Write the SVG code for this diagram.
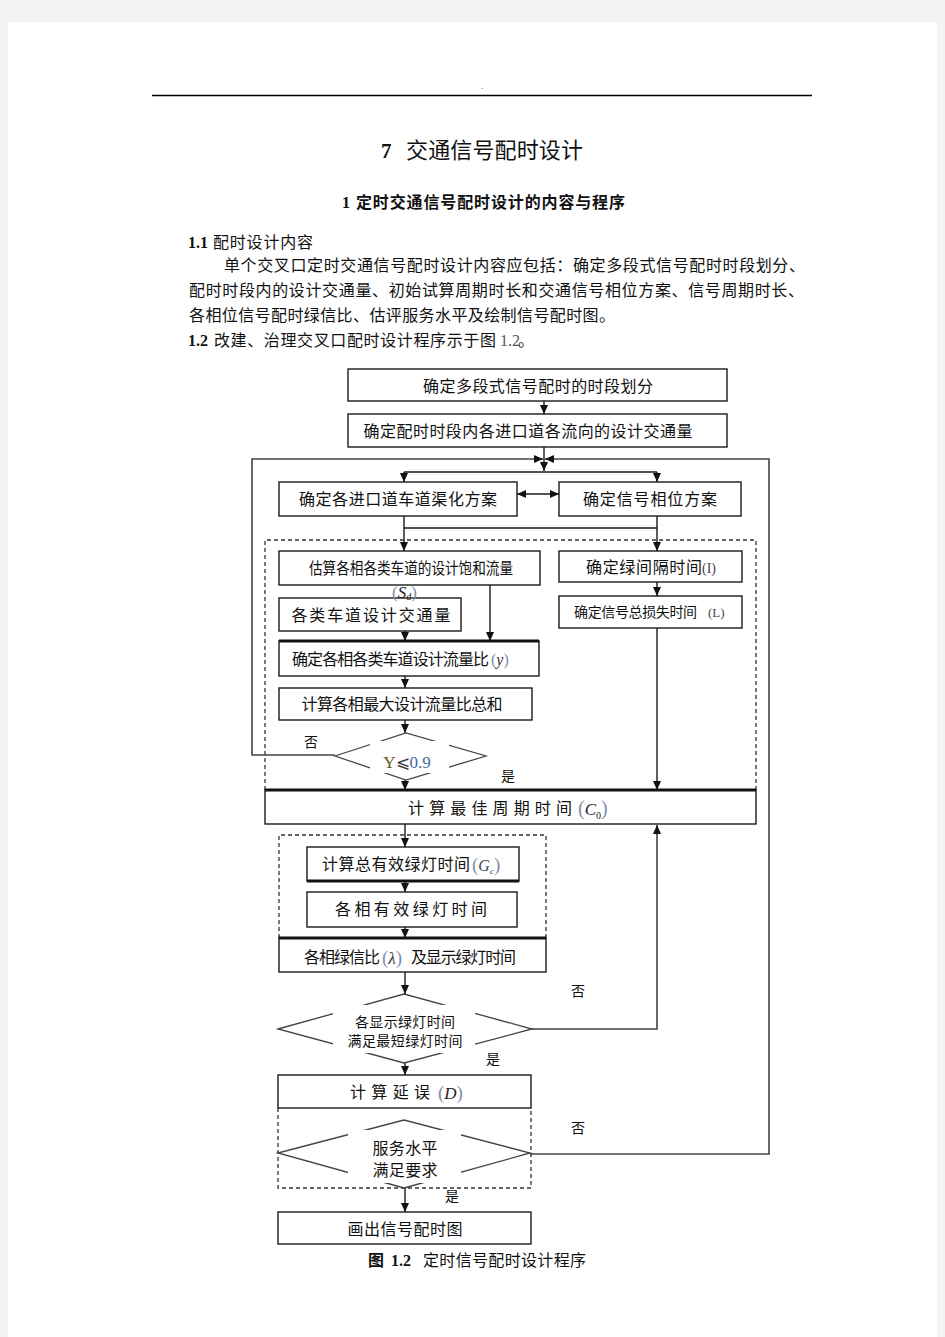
<svg xmlns="http://www.w3.org/2000/svg" width="945" height="1337" viewBox="0 0 945 1337">
<style>
.box{fill:#fff;stroke:#1a1a1a;stroke-width:1.4}
.thick{stroke:#111;stroke-width:3}
.cn{font-family:"Noto Sans CJK SC","Noto Sans",sans-serif;font-size:16px;fill:#111}
.sm{font-size:14px}
.lab{font-family:"Noto Sans CJK SC",sans-serif;font-size:14px;fill:#111;text-anchor:middle}
.mid{text-anchor:middle}
.ser{font-family:"Liberation Serif","DejaVu Serif",serif}
.it{font-style:italic}
.par{fill:#8090a8}
.ln{fill:none;stroke:#1a1a1a;stroke-width:1.4}
.loop{fill:none;stroke:#444;stroke-width:1.6}
.dash{fill:none;stroke:#333;stroke-width:1.3;stroke-dasharray:4 3}
.dia{fill:#fff;stroke:#444;stroke-width:1.3}
</style>
<defs>
<marker id="ah" markerUnits="userSpaceOnUse" markerWidth="10" markerHeight="8" refX="9" refY="4" orient="auto-start-reverse">
<path d="M0,0 L9,4 L0,8 z" fill="#111"/>
</marker>
</defs>
<rect x="0" y="0" width="945" height="1337" fill="#f3f3f3"/>
<rect x="8" y="22" width="929" height="1315" fill="#fff"/>
<g id="page-text">
<line x1="152" y1="95.5" x2="812" y2="95.5" stroke="#000" stroke-width="1.3"/>
<text x="481" y="90" font-family="Liberation Sans,sans-serif" font-size="7" fill="#777">-</text>
<text x="381" y="158" class="ser" font-size="21" font-weight="bold" fill="#111">7</text>
<text x="406" y="158" class="cn" style="font-size:22px" textLength="177">交通信号配时设计</text>
<text x="342" y="208" class="ser" font-size="16" font-weight="bold" fill="#111">1</text>
<text x="356" y="208" class="cn" font-weight="bold" textLength="269">定时交通信号配时设计的内容与程序</text>
<text x="188" y="248" class="ser" font-size="16" font-weight="bold" fill="#111">1.1</text>
<text x="213" y="248" class="cn" textLength="100">配时设计内容</text>
<text x="224" y="271" class="cn" textLength="581">单个交叉口定时交通信号配时设计内容应包括：确定多段式信号配时时段划分、</text>
<text x="189" y="296" class="cn" textLength="615">配时时段内的设计交通量、初始试算周期时长和交通信号相位方案、信号周期时长、</text>
<text x="189" y="321" class="cn" textLength="426">各相位信号配时绿信比、估评服务水平及绘制信号配时图。</text>
<text x="188" y="346" class="ser" font-size="16" font-weight="bold" fill="#111">1.2</text>
<text x="214" y="346" class="cn" textLength="282">改建、治理交叉口配时设计程序示于图</text>
<text x="500" y="346" class="ser" font-size="16" fill="#556">1.2</text>
<text x="518" y="346" class="cn">。</text>
</g>
<g id="connectors">
<path class="loop" d="M335,755 H252 V459 H543" marker-end="url(#ah)"/>
<path class="loop" d="M530,1154 H769 V459 H545" marker-end="url(#ah)"/>
<path class="ln" d="M544,401 V414" marker-end="url(#ah)"/>
<path class="ln" d="M544,447 V471" marker-end="url(#ah)"/>
<path class="ln" d="M404,472 H657"/>
<path class="ln" d="M404,472 V482" marker-end="url(#ah)"/>
<path class="ln" d="M657,472 V482" marker-end="url(#ah)"/>
<path class="ln" d="M517,494 H559" marker-start="url(#ah)" marker-end="url(#ah)"/>
<path class="ln" d="M404,516 V551" marker-end="url(#ah)"/>
<path class="ln" d="M657,516 V551" marker-end="url(#ah)"/>
<path class="ln" d="M404,528 H657"/>
<path class="ln" d="M490,585 V641" marker-end="url(#ah)"/>
<path class="ln" d="M405,631 V641" marker-end="url(#ah)"/>
<path class="ln" d="M405,676 V688" marker-end="url(#ah)"/>
<path class="ln" d="M405,720 V733" marker-end="url(#ah)"/>
<path class="ln" d="M405,780 V790" marker-end="url(#ah)"/>
<path class="ln" d="M657,582 V596" marker-end="url(#ah)"/>
<path class="ln" d="M657,628 V790" marker-end="url(#ah)"/>
<path class="ln" d="M405,824 V847" marker-end="url(#ah)"/>
<path class="ln" d="M405,881 V892" marker-end="url(#ah)"/>
<path class="ln" d="M405,927 V938" marker-end="url(#ah)"/>
<path class="ln" d="M405,972 V994" marker-end="url(#ah)"/>
<path class="loop" d="M532,1029 H657 V825" marker-end="url(#ah)"/>
<path class="ln" d="M405,1063 V1075" marker-end="url(#ah)"/>
<path class="ln" d="M405,1188 V1212" marker-end="url(#ah)"/>
<path class="dash" d="M265,790 V540 H756 V790"/>
<path class="dash" d="M279,938 V835 H546 V938"/>
<path class="dash" d="M278,1108 V1188 H531 V1108"/>
<text x="311" y="747" class="lab">否</text>
<text x="508" y="781" class="lab">是</text>
<text x="578" y="996" class="lab">否</text>
<text x="493" y="1064" class="lab">是</text>
<text x="578" y="1133" class="lab">否</text>
<text x="452" y="1201" class="lab">是</text>
</g>
<g id="n1">
<rect class="box" x="348" y="369" width="379" height="32"/>
<text x="538" y="392" class="cn mid" textLength="230">确定多段式信号配时的时段划分</text>
</g>
<g id="n2">
<rect class="box" x="348" y="414" width="379" height="33"/>
<text x="528" y="437" class="cn mid" textLength="329">确定配时时段内各进口道各流向的设计交通量</text>
</g>
<g id="n3">
<rect class="box" x="279" y="482" width="238" height="34"/>
<text x="398" y="505" class="cn mid" textLength="198">确定各进口道车道渠化方案</text>
</g>
<g id="n4">
<rect class="box" x="559" y="482" width="182" height="34"/>
<text x="650" y="505" class="cn mid" textLength="134">确定信号相位方案</text>
</g>
<g id="n6">
<rect class="box" x="279" y="598" width="182" height="33"/>
<text x="371" y="621" class="cn mid" textLength="159">各类车道设计交通量</text>
</g>
<g id="n5">
<rect class="box" x="279" y="551" width="261" height="34"/>
<text x="411" y="574" class="cn mid" textLength="204" lengthAdjust="spacingAndGlyphs">估算各相各类车道的设计饱和流量</text>
<text x="392" y="598" class="ser" font-size="17" fill="#222"><tspan class="par">(</tspan><tspan class="it">S</tspan><tspan class="it" font-size="10" dy="2">d</tspan><tspan class="par" dy="-2">)</tspan></text>
</g>
<g id="n7">
<rect class="box" x="279" y="641" width="260" height="35"/>
<line class="thick" x1="279" y1="641" x2="539" y2="641" stroke-width="2.4"/>
<text x="292" y="665" class="cn" textLength="197">确定各相各类车道设计流量比</text>
<text x="491" y="665" class="ser" font-size="16" fill="#333"><tspan class="par">(</tspan><tspan class="it">y</tspan><tspan class="par">)</tspan></text>
</g>
<g id="n8">
<rect class="box" x="279" y="688" width="253" height="32"/>
<text x="402" y="710" class="cn mid" textLength="201">计算各相最大设计流量比总和</text>
</g>
<g id="d1">
<polygon class="dia" points="335,756 406,733 486,756 406,780"/>
<rect x="370" y="741" width="79" height="32" fill="#fff"/>
<text x="407" y="768" class="ser mid" font-size="17"><tspan fill="#6b5420">Y</tspan><tspan fill="#333">⩽</tspan><tspan fill="#3d6aa3">0.9</tspan></text>
</g>
<g id="r1">
<rect class="box" x="559" y="551" width="183" height="31"/>
<text x="586" y="573" class="cn" textLength="116">确定绿间隔时间</text>
<text x="702" y="573" class="ser" font-size="14" fill="#444">(I)</text>
</g>
<g id="r2">
<rect class="box" x="559" y="596" width="183" height="32"/>
<text x="574" y="617" class="cn sm" textLength="123">确定信号总损失时间</text>
<text x="708" y="617" class="ser" font-size="13" fill="#444">(L)</text>
</g>
<g id="c0">
<rect class="box" x="265" y="790" width="491" height="34"/>
<line class="thick" x1="265" y1="790" x2="756" y2="790"/>
<text x="408" y="814" class="cn" textLength="164">计 算 最 佳 周 期 时 间</text>
<text x="578" y="815" class="ser" font-size="17" fill="#222"><tspan class="par" font-size="20">(</tspan><tspan class="it">C</tspan><tspan font-size="10" dy="4">0</tspan><tspan class="par" font-size="20" dy="-4">)</tspan></text>
</g>
<g id="ge">
<rect class="box" x="307" y="847" width="212" height="34"/>
<line class="thick" x1="307" y1="881" x2="519" y2="881" stroke-width="2.4"/>
<text x="322" y="870" class="cn" textLength="148">计算总有效绿灯时间</text>
<text x="472" y="871" class="ser" font-size="16" fill="#445"><tspan class="par" font-size="19">(</tspan><tspan class="it">G</tspan><tspan class="it" font-size="9" dy="3">c</tspan><tspan class="par" font-size="19" dy="-3">)</tspan></text>
</g>
<g id="eg">
<rect class="box" x="307" y="892" width="210" height="35"/>
<text x="335" y="915" class="cn" textLength="152">各 相 有 效 绿 灯 时 间</text>
</g>
<g id="lam">
<rect class="box" x="279" y="938" width="267" height="34"/>
<line class="thick" x1="279" y1="938" x2="546" y2="938" stroke-width="2.4"/>
<text x="304" y="963" class="cn" textLength="76">各相绿信比</text>
<text x="382" y="964" class="ser" font-size="17" fill="#333"><tspan class="par" font-size="19">(</tspan><tspan class="it">λ</tspan><tspan class="par" font-size="19">)</tspan></text>
<text x="411" y="963" class="cn" textLength="105">及显示绿灯时间</text>
</g>
<g id="d2">
<polygon class="dia" points="278,1029 404,994 532,1029 404,1063"/>
<rect x="333" y="1005" width="142" height="48" fill="#fff"/>
<text x="405" y="1027" class="cn sm mid" textLength="100">各显示绿灯时间</text>
<text x="405" y="1046" class="cn sm mid" textLength="115">满足最短绿灯时间</text>
</g>
<g id="dly">
<rect class="box" x="278" y="1075" width="253" height="33"/>
<text x="350" y="1098" class="cn" textLength="80">计 算 延 误</text>
<text x="438" y="1099" class="ser" font-size="17" fill="#222"><tspan class="par" font-size="19">(</tspan><tspan class="it">D</tspan><tspan class="par" font-size="19">)</tspan></text>
</g>
<g id="d3">
<polygon class="dia" points="278,1153 404,1120 530,1153 404,1188"/>
<rect x="348" y="1130" width="113" height="53" fill="#fff"/>
<text x="405" y="1154" class="cn mid" textLength="65">服务水平</text>
<text x="405" y="1176" class="cn mid" textLength="65">满足要求</text>
</g>
<g id="fin">
<rect class="box" x="278" y="1212" width="253" height="32"/>
<text x="405" y="1235" class="cn mid" textLength="115">画出信号配时图</text>
</g>
<g id="caption">
<text x="368" y="1266" class="cn" font-weight="bold">图</text>
<text x="391" y="1266" class="ser" font-size="16" font-weight="bold" fill="#111">1.2</text>
<text x="423" y="1266" class="cn" textLength="163">定时信号配时设计程序</text>
</g>
</svg>
